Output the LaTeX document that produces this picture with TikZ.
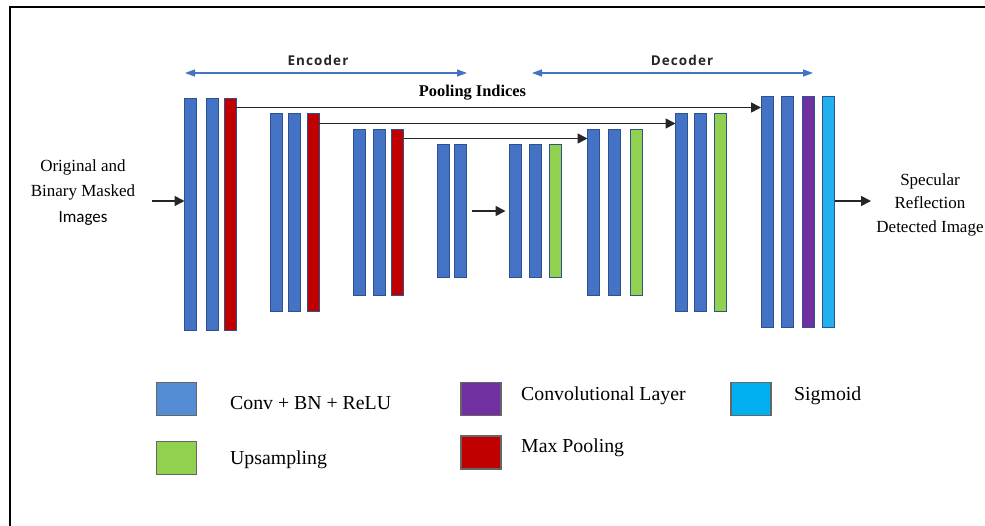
\documentclass[tikz,border=0pt]{standalone}
\usepackage{fontspec}
\setmainfont{Liberation Serif}
\newfontfamily\calfont{Carlito}
\newfontfamily\headfont[LetterSpace=8]{Open Sans}
\usetikzlibrary{arrows.meta}

\definecolor{convblue}{HTML}{4472C4}
\definecolor{barline}{HTML}{2F528F}
\definecolor{poolred}{HTML}{C00000}
\definecolor{upgreen}{HTML}{92D050}
\definecolor{convpurple}{HTML}{7030A0}
\definecolor{sigcyan}{HTML}{22B0EE}
\definecolor{keyblue}{HTML}{548DD4}
\definecolor{keycyan}{HTML}{00B0F0}
\definecolor{keyline}{HTML}{666666}
\definecolor{spanblue}{HTML}{4472C4}

\begin{document}
\begin{tikzpicture}[x=1pt,y=-1pt,
  bar/.style={draw=barline, line width=1pt, minimum width=12pt, inner sep=0pt, outer sep=0pt},
  key/.style={draw=keyline, line width=1.2pt, minimum width=40pt, minimum height=33pt, inner sep=0pt},
  keytext/.style={anchor=west, inner sep=0pt, font=\fontsize{19.8}{22}\selectfont},
  sidetext/.style={align=center, inner sep=0pt},
  flow/.style={line width=1.6pt, black!85, -{Triangle[length=10pt,width=10pt]}},
  spanarrow/.style={draw=spanblue, line width=1.2pt,
    {Triangle[length=10pt,width=7pt]}-{Triangle[length=10pt,width=7pt]}},
  spanlabel/.style={font=\headfont\bfseries\fontsize{13.5}{15}\selectfont, text=black!85},
  frame/.style={line width=2pt}]

% page area, white
\fill[white] (0,0) rectangle (985,526);
\useasboundingbox (0,0) rectangle (985,526);

% outer frame
\draw[frame] (10,526) -- (10,7) -- (985,7);

% encoder / decoder spans
\coordinate (encL) at (185,73);
\coordinate (encR) at (467,73);
\coordinate (decL) at (532,73);
\coordinate (decR) at (813,73);
\draw[spanarrow] (encL) -- (encR);
\draw[spanarrow] (decL) -- (decR);
\node[spanlabel] (enc) at (318,60) {Encoder};
\node[spanlabel] (dec) at (682,60) {Decoder};

% encoder stage 1
\node[bar, fill=convblue, minimum height=232pt] (b11) at (190.5,214.5) {};
\node[bar, fill=convblue, minimum height=232pt] (b12) at (212.5,214.5) {};
\node[bar, fill=poolred,  minimum height=232pt] (b13) at (230,214.5) {};
% encoder stage 2
\node[bar, fill=convblue, minimum height=198pt] (b21) at (276.5,212.5) {};
\node[bar, fill=convblue, minimum height=198pt] (b22) at (294.5,212.5) {};
\node[bar, fill=poolred,  minimum height=198pt] (b23) at (313,212.5) {};
% encoder stage 3
\node[bar, fill=convblue, minimum height=166pt] (b31) at (359.5,212.5) {};
\node[bar, fill=convblue, minimum height=166pt] (b32) at (379.5,212.5) {};
\node[bar, fill=poolred,  minimum height=166pt] (b33) at (397.5,212.5) {};
% bottleneck
\node[bar, fill=convblue, minimum height=133pt] (b41) at (443,211) {};
\node[bar, fill=convblue, minimum height=133pt] (b42) at (460.5,211) {};
% decoder stage 1
\node[bar, fill=convblue, minimum height=133pt] (b51) at (515.5,211) {};
\node[bar, fill=convblue, minimum height=133pt] (b52) at (535.5,211) {};
\node[bar, fill=upgreen,  minimum height=133pt] (b53) at (555.5,211) {};
% decoder stage 2
\node[bar, fill=convblue, minimum height=166pt] (b61) at (593.5,213) {};
\node[bar, fill=convblue, minimum height=166pt] (b62) at (614.5,213) {};
\node[bar, fill=upgreen,  minimum height=166pt] (b63) at (636.5,213) {};
% decoder stage 3
\node[bar, fill=convblue, minimum height=198pt] (b71) at (681.5,212.5) {};
\node[bar, fill=convblue, minimum height=198pt] (b72) at (700.5,212.5) {};
\node[bar, fill=upgreen,  minimum height=198pt] (b73) at (720.5,212.5) {};
% output stage
\node[bar, fill=convblue,   minimum height=231pt] (b81) at (767,212) {};
\node[bar, fill=convblue,   minimum height=231pt] (b82) at (787,212) {};
\node[bar, fill=convpurple, minimum height=231pt] (b83) at (808,212) {};
\node[bar, fill=sigcyan,    minimum height=231pt] (b84) at (828.5,212) {};

% pooling indices
\node[font=\bfseries\fontsize{16.4}{18}\selectfont, inner sep=0pt] (pooltxt) at (472.5,93) {Pooling Indices};
\draw[flow] (b13.north east) ++(0,9) coordinate (p1) -- (p1 -| b81.west);
\draw[flow] (b23.north east) ++(0,10) coordinate (p2) -- (p2 -| b71.west);
\draw[flow] (b33.north east) ++(0,9) coordinate (p3) -- (p3 -| b61.west);

% bottleneck to decoder
\draw[flow, shorten <=5pt, shorten >=4pt] (b42.east) -- (b51.west);

% input and output
\node[sidetext, font=\fontsize{17}{25.5}\selectfont] (inlbl) at (83,192.5)
  {Original and\\Binary Masked\\{\calfont Images}};
\coordinate (inStart) at (152,201);
\draw[flow] (inStart) -- (inStart -| b11.west);

\node[sidetext, font=\fontsize{17}{23.5}\selectfont] (outlbl) at (930,204.5)
  {Specular\\Reflection\\Detected Image};
\coordinate (outEnd) at (871,201);
\draw[flow] (outEnd -| b84.east) -- (outEnd);

% legend
\node[key, fill=keyblue] (kconv) at (176.5,399) {};
\node[keytext] (tconv) at (230,403) {Conv + BN + ReLU};
\node[key, fill=upgreen] (kup) at (176.5,458) {};
\node[keytext] (tup) at (230,460) {Upsampling};
\node[key, fill=convpurple] (kcl) at (481,399) {};
\node[keytext] (tcl) at (521,396) {Convolutional Layer};
\node[key, fill=poolred] (kmp) at (481,452.5) {};
\node[keytext] (tmp) at (521,448) {Max Pooling};
\node[key, fill=keycyan] (ksig) at (751,399) {};
\node[keytext] (tsig) at (794,396) {Sigmoid};
\end{tikzpicture}
\end{document}
